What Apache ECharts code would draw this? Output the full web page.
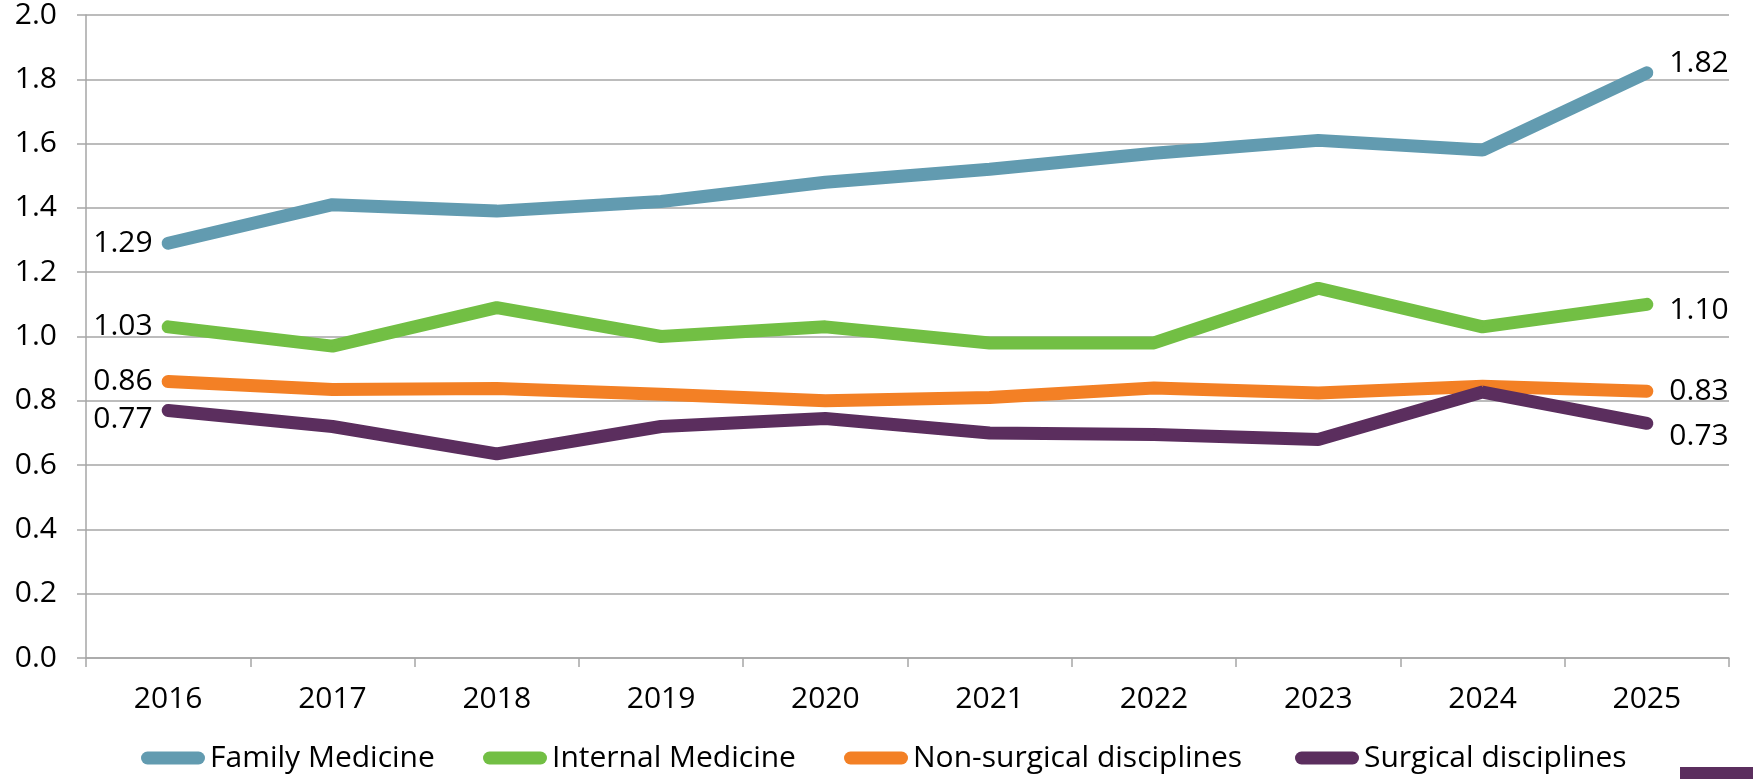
<!DOCTYPE html>
<html>
<head>
<meta charset="utf-8">
<script src="https://cdn.jsdelivr.net/npm/echarts@6/dist/echarts.min.js"></script>
<style>
html,body{margin:0;padding:0;background:#fff;}
#chart{width:1753px;height:779px;}
</style>
</head>
<body>
<div id="chart"></div>
<script>
const years = ['2016','2017','2018','2019','2020','2021','2022','2023','2024','2025'];
const familyMedicine = [1.29, 1.41, 1.39, 1.42, 1.48, 1.52, 1.57, 1.61, 1.58, 1.82];
const internalMedicine = [1.03, 0.97, 1.09, 1.00, 1.03, 0.98, 0.98, 1.15, 1.03, 1.10];
const nonSurgical = [0.86, 0.835, 0.838, 0.82, 0.80, 0.81, 0.84, 0.824, 0.845, 0.83];
const surgical = [0.77, 0.72, 0.635, 0.72, 0.745, 0.70, 0.695, 0.68, 0.827, 0.73];
const yTicks = ['0.0','0.2','0.4','0.6','0.8','1.0','1.2','1.4','1.6','1.8','2.0'];

const FONT = "'Open Sans', 'Noto Sans', sans-serif";
const TXT = '#000';
const GRID = '#a6a6a6';

const seriesDefs = [
  {name: 'Family Medicine', data: familyMedicine, color: '#629bb0', lOff: 0, rOff: -9},
  {name: 'Internal Medicine', data: internalMedicine, color: '#72bf44', lOff: 0, rOff: 6},
  {name: 'Non-surgical disciplines', data: nonSurgical, color: '#f38025', lOff: 0, rOff: 0},
  {name: 'Surgical disciplines', data: surgical, color: '#5b2e5e', lOff: 9, rOff: 13}
];
const legendLeft = [141, 483, 844, 1295];

const capsule = 'path://M6.5,0 H57.5 A6.5,6.5 0 0 1 57.5,13 H6.5 A6.5,6.5 0 0 1 6.5,0 Z';

const chart = echarts.init(document.getElementById('chart'), null, {renderer: 'canvas'});
const last = years.length - 1;

chart.setOption({
  backgroundColor: '#fff',
  animation: false,
  textStyle: {fontFamily: FONT},
  grid: {left: 86, right: 24, top: 14, bottom: 121, containLabel: false},
  legend: seriesDefs.map((s, i) => ({
    data: [s.name],
    left: legendLeft[i],
    top: 743,
    padding: 0,
    itemWidth: 64,
    itemHeight: 13,
    icon: capsule,
    textStyle: {fontFamily: FONT, fontSize: 30, color: TXT},
    selectedMode: false
  })),
  xAxis: {
    type: 'category',
    data: years,
    boundaryGap: true,
    axisLine: {lineStyle: {color: GRID, width: 1.5}},
    axisTick: {show: true, length: 9, lineStyle: {color: GRID, width: 1.5}},
    axisLabel: {fontFamily: FONT, fontSize: 30, color: TXT, margin: 26}
  },
  yAxis: {
    type: 'value',
    min: 0,
    max: 2,
    interval: 0.2,
    axisLine: {show: true, lineStyle: {color: GRID, width: 1.5}},
    axisTick: {show: true, length: 9, lineStyle: {color: GRID, width: 1.5}},
    splitLine: {show: true, lineStyle: {color: GRID, width: 1.5}},
    axisLabel: {
      fontFamily: FONT, fontSize: 30, color: TXT, margin: 29,
      formatter: (v) => yTicks[Math.round(v / 0.2)]
    }
  },
  series: seriesDefs.map(s => ({
    name: s.name,
    type: 'line',
    symbol: 'circle',
    symbolSize: 1,
    showSymbol: true,
    itemStyle: {color: s.color},
    lineStyle: {color: s.color, width: 13, cap: 'round', join: 'bevel'},
    emphasis: {disabled: true},
    data: s.data.map((v, i) => ({
      value: v,
      label: {
        show: i === 0 || i === last,
        position: i === 0 ? 'left' : 'right',
        distance: i === 0 ? 15 : 22,
        offset: [0, i === 0 ? s.lOff : s.rOff],
        fontFamily: FONT,
        fontSize: 30,
        color: TXT,
        formatter: (p) => Number(s.data[p.dataIndex]).toFixed(2)
      }
    }))
  })),
  graphic: [{
    type: 'rect',
    shape: {x: 1680, y: 767, width: 73, height: 12},
    style: {fill: '#5b2e5e'}
  }]
});
</script>
</body>
</html>
